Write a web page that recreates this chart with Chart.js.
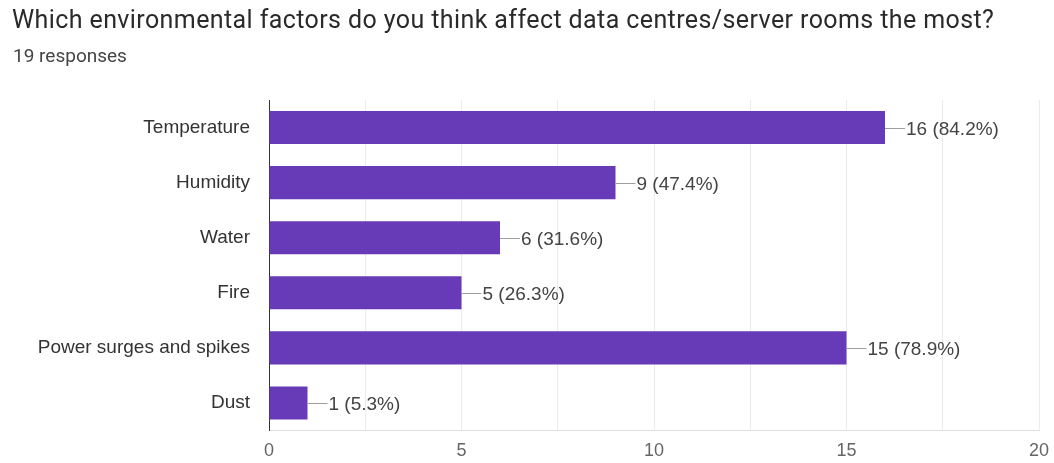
<!DOCTYPE html>
<html>
<head>
<meta charset="utf-8">
<script src="https://cdn.jsdelivr.net/npm/chart.js@4.4.1/dist/chart.umd.min.js"></script>
<style>
  html, body { margin: 0; padding: 0; background: #fff; }
  #wrap { width: 1054px; height: 463px; position: relative; }
</style>
</head>
<body>
<div id="wrap"><canvas id="chart" width="1054" height="463"></canvas></div>
<script>
// Survey question and answer counts
const questionTitle = 'Which environmental factors do you think affect data centres/server rooms the most?';
const responseNote = '19 responses';
const categories = ['Temperature', 'Humidity', 'Water', 'Fire', 'Power surges and spikes', 'Dust'];
const counts = [16, 9, 6, 5, 15, 1];
const percents = ['84.2%', '47.4%', '31.6%', '26.3%', '78.9%', '5.3%'];
const xTicks = [0, 5, 10, 15, 20];

const BAR_COLOR = '#673ab7';
const AXIS_FONT = '"Liberation Sans", Arial, sans-serif';
const TITLE_WIDTH = 982;

// Heading above the plot
const headingPlugin = {
  id: 'heading',
  afterDraw(chart) {
    const ctx = chart.ctx;
    ctx.save();
    ctx.textAlign = 'left';
    ctx.textBaseline = 'alphabetic';
    ctx.fillStyle = '#2a2a2a';
    ctx.font = '25px Roboto, Arial, sans-serif';
    const w = ctx.measureText(questionTitle).width;
    const spacing = Math.max(0, (TITLE_WIDTH - w) / (questionTitle.length - 1));
    ctx.letterSpacing = spacing.toFixed(2) + 'px';
    ctx.fillText(questionTitle, 12, 28);
    ctx.letterSpacing = '0px';
    ctx.fillStyle = '#444';
    ctx.font = '19px Roboto, Arial, sans-serif';
    ctx.fillText(responseNote, 13, 62);
    ctx.restore();
  }
};

// Value labels with a short leader line at the end of every bar
const valueLabelPlugin = {
  id: 'valueLabels',
  afterDatasetsDraw(chart) {
    const ctx = chart.ctx;
    const meta = chart.getDatasetMeta(0);
    ctx.save();
    ctx.font = '19px ' + AXIS_FONT;
    ctx.textBaseline = 'middle';
    ctx.textAlign = 'left';
    meta.data.forEach((bar, i) => {
      const x = bar.x;
      const y = Math.round(bar.y) + 0.5;
      ctx.strokeStyle = '#9e9e9e';
      ctx.lineWidth = 1;
      ctx.beginPath();
      ctx.moveTo(x, y);
      ctx.lineTo(x + 20, y);
      ctx.stroke();
      ctx.fillStyle = '#444';
      ctx.fillText(counts[i] + ' (' + percents[i] + ')', x + 21, y + 1);
    });
    ctx.restore();
  }
};

new Chart(document.getElementById('chart'), {
  type: 'bar',
  data: {
    labels: categories,
    datasets: [{
      data: counts,
      backgroundColor: BAR_COLOR,
      borderWidth: 0,
      barPercentage: 0.6,
      categoryPercentage: 1.0
    }]
  },
  options: {
    indexAxis: 'y',
    responsive: false,
    animation: false,
    devicePixelRatio: 1,
    layout: { padding: { top: 100, right: 15, bottom: 0, left: 0 } },
    plugins: {
      legend: { display: false },
      tooltip: { enabled: false },
      title: { display: false }
    },
    scales: {
      x: {
        min: 0,
        max: 20,
        afterBuildTicks(scale) {
          const t = [];
          for (let v = 0; v <= 20; v += 2.5) t.push({ value: v });
          scale.ticks = t;
        },
        afterFit(scale) {
          scale.height = 32.5;
          scale.paddingLeft = 0;
          scale.paddingRight = 0;
        },
        grid: {
          color: '#ebebeb',
          drawTicks: false
        },
        border: { display: true, color: '#e0e0e0' },
        ticks: {
          padding: 10,
          maxRotation: 0,
          autoSkip: false,
          font: { family: AXIS_FONT, size: 18 },
          color: '#666',
          callback(value) { return xTicks.includes(value) ? String(value) : ''; }
        }
      },
      y: {
        afterFit(scale) { scale.width = 269; },
        grid: { display: false, drawTicks: false },
        border: { display: true, color: '#333', width: 1 },
        ticks: {
          padding: 19,
          font: { family: AXIS_FONT, size: 19 },
          color: '#333'
        }
      }
    }
  },
  plugins: [headingPlugin, valueLabelPlugin]
});
</script>
</body>
</html>
